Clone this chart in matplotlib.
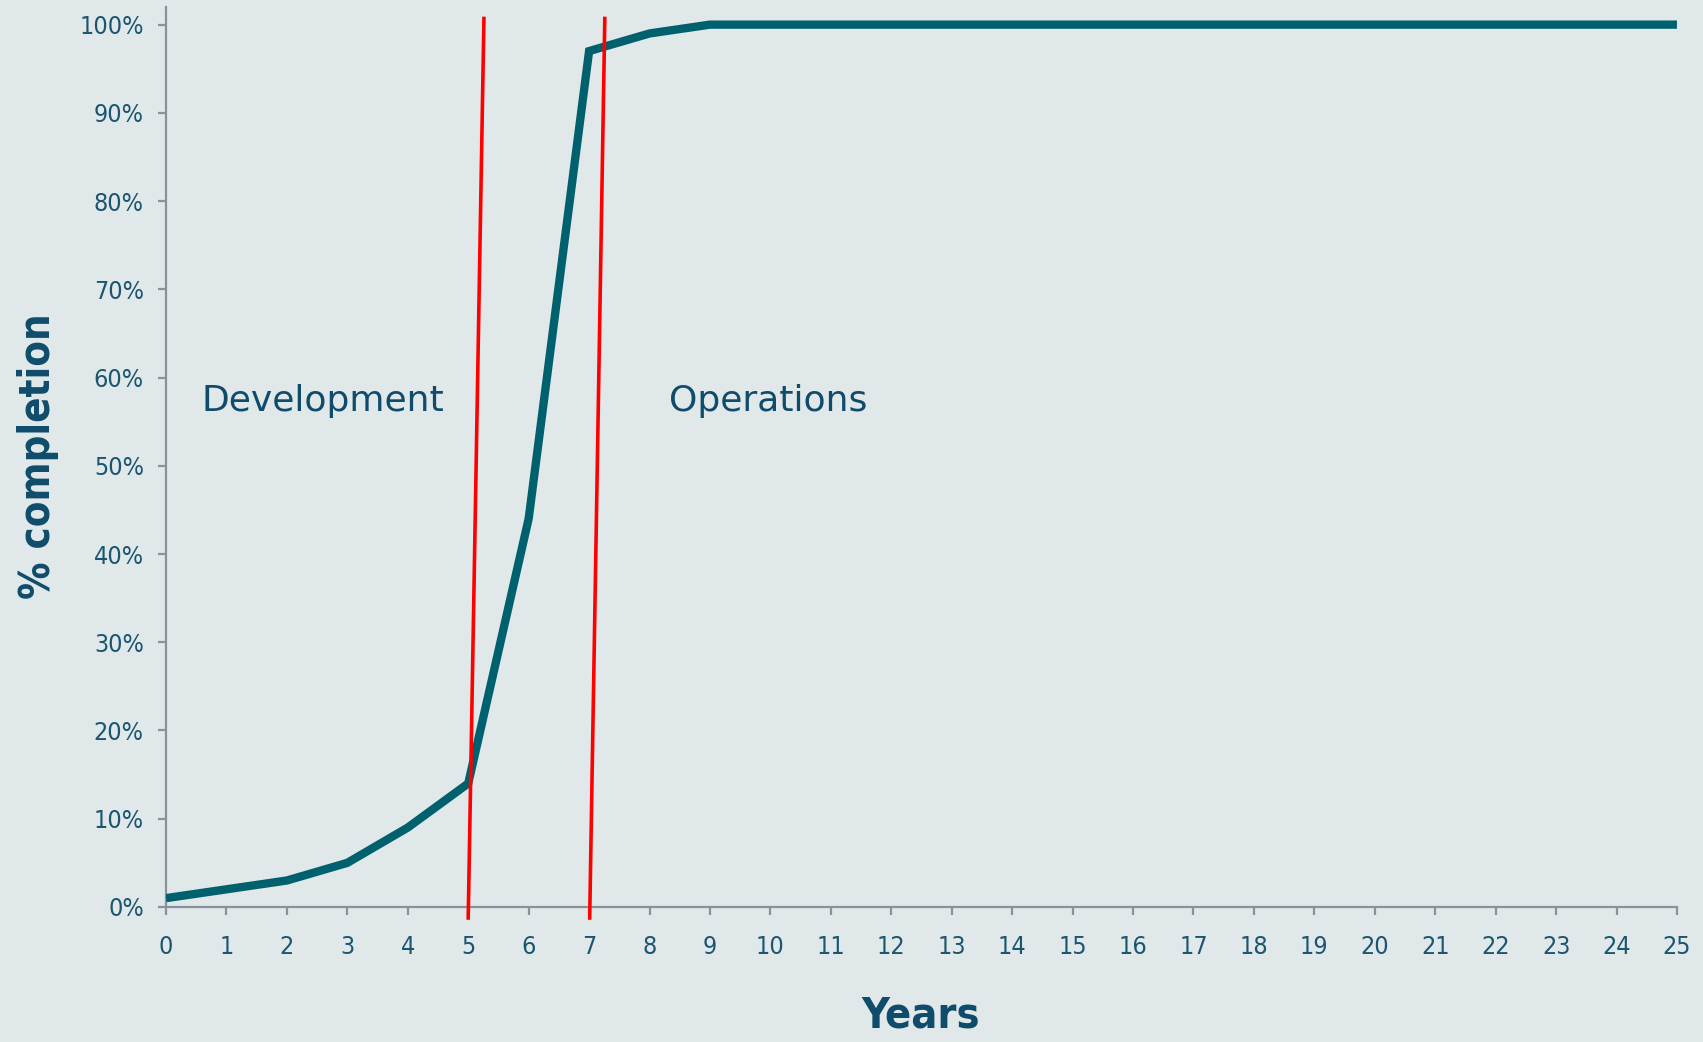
import matplotlib
matplotlib.use("Agg")
import matplotlib.pyplot as plt
from matplotlib.ticker import PercentFormatter

# data
years = list(range(0, 26))
completion = [0.01, 0.02, 0.03, 0.05, 0.09, 0.14, 0.44, 0.97, 0.99] + [1.0] * 17

# phase boundaries (slightly slanted red lines): (x_bottom, y_bottom, x_top, y_top)
dev_end = [5.0, -0.0125, 5.26, 1.007]
ops_start = [7.01, -0.0125, 7.26, 1.007]

bg = "#E1E8EA"
teal = "#00616E"
txt = "#0F4C6B"
axis_grey = "#8A9299"

fig = plt.figure(figsize=(17.03, 10.42), dpi=100, facecolor=bg)
ax = fig.add_axes([0.0975, 0.1296, 0.8872, 0.8637])
ax.set_facecolor(bg)

ax.plot(years, completion, color=teal, lw=6, solid_joinstyle="miter", solid_capstyle="butt", zorder=3)

for ln in (dev_end, ops_start):
    ax.plot([ln[0], ln[2]], [ln[1], ln[3]], color="#FF0000", lw=2.6, clip_on=False, zorder=4)

ax.text(0.58, 0.574, "Development", fontsize=26, color=txt, va="center", ha="left")
ax.text(8.32, 0.574, "Operations", fontsize=26, color=txt, va="center", ha="left")

ax.set_xlim(0, 25)
ax.set_ylim(0, 1.02)
ax.set_xticks(years)
ax.set_yticks([i / 10 for i in range(11)])
ax.yaxis.set_major_formatter(PercentFormatter(1.0, decimals=0))

for s in ("top", "right"):
    ax.spines[s].set_visible(False)
for s in ("left", "bottom"):
    ax.spines[s].set_color(axis_grey)
    ax.spines[s].set_linewidth(1.6)

ax.tick_params(axis="both", colors=axis_grey, width=1.6, length=6, labelcolor="#1B5670")
ax.tick_params(axis="x", pad=14)
ax.tick_params(axis="y", pad=10)
for lab in ax.get_xticklabels() + ax.get_yticklabels():
    lab.set_fontfamily("DejaVu Sans")
    lab.set_fontstretch("condensed")
    lab.set_fontsize(18)

fig.text(921 / 1703, 1 - 1015 / 1042, "Years", fontsize=31, fontweight="bold",
         fontstretch="condensed", color=txt, ha="center", va="center")
fig.text(38 / 1703, 1 - 456 / 1042, "% completion", fontsize=30, fontweight="bold",
         fontstretch="condensed", color=txt, ha="center", va="center", rotation=90)

fig.savefig("out.png", dpi=100, facecolor=bg)
